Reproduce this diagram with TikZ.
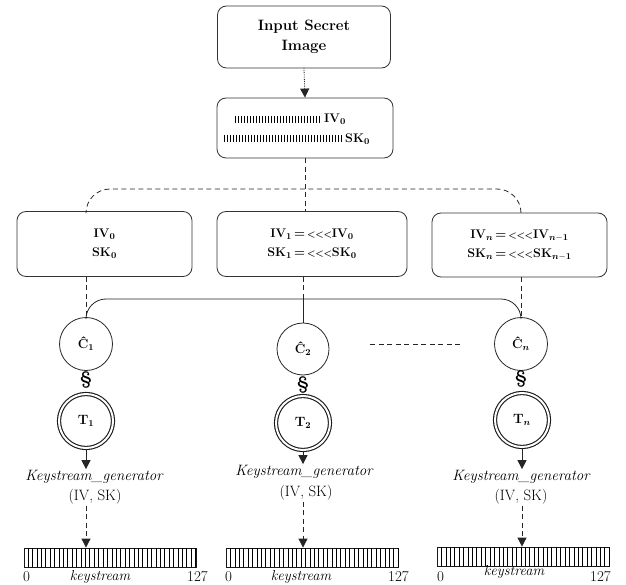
\documentclass[tikz,border=0pt]{standalone}
\usepackage{amsmath}
\usetikzlibrary{arrows.meta,calc}
\newcommand{\shl}{{\fontsize{9.5}{12}\selectfont<\kern-0.3pt<\kern-0.3pt<}}
\begin{document}
\begin{tikzpicture}[x=1pt,y=-1pt,
  ln/.style={line width=0.8pt, draw=black!85},
  dsh/.style={dash pattern=on 5pt off 3.5pt},
  arr/.style={ln, -{Triangle[width=9pt,length=9pt]}},
  rbox/.style={draw=black!80, line width=0.8pt, rounded corners=9pt, align=center, inner sep=0pt,
     font=\fontsize{12.5}{19}\selectfont\bfseries},
  cnode/.style={circle, draw=black!85, line width=0.8pt, minimum size=53pt, inner sep=0pt,
     font=\fontsize{13}{15}\selectfont\bfseries},
  tnode/.style={circle, draw=black!90, double, double distance=2pt, line width=1.1pt, minimum size=54pt, inner sep=0pt,
     font=\fontsize{13.5}{15}\selectfont\bfseries},
  sect/.style={font=\fontsize{18}{18}\selectfont\bfseries, inner sep=0pt},
  kg/.style={font=\fontsize{15}{17}\selectfont\itshape, inner sep=1pt},
  ivsk/.style={font=\fontsize{15}{17}\selectfont, inner sep=1pt},
  bar/.style={draw=black!90, line width=0.8pt, minimum width=172pt, minimum height=19pt, inner sep=0pt},
  lab/.style={font=\fontsize{15}{17}\selectfont, inner sep=0pt},
  klab/.style={font=\fontsize{14.5}{17}\selectfont\itshape, inner sep=0pt},
  smalltxt/.style={font=\fontsize{12.5}{15}\selectfont\bfseries, inner sep=0pt, anchor=west}
]
\useasboundingbox (0,0) rectangle (626,585);

% top boxes
\node[rbox, minimum width=173pt, minimum height=62pt, font=\fontsize{15}{20}\selectfont\bfseries] (inp) at (304,37) {Input Secret\\Image};
\node[rbox, minimum width=176pt, minimum height=60pt] (iv) at (305,128) {};
\draw[arr, densely dotted] (inp.south) -- (iv.north);

% bit patterns in the IV/SK box
\foreach \k in {0,...,28} \draw[line width=0.6pt] (235+\k*3,116) -- ++(0,7);
\foreach \k in {0,...,39} \draw[line width=0.6pt] (224+\k*3,135) -- ++(0,7);
\node[smalltxt] (ivt) at (324,119) {IV$_{\mathbf{0}}$};
\node[smalltxt] (skt) at (345,139) {SK$_{\mathbf{0}}$};

% middle boxes
\node[rbox, minimum width=175pt, minimum height=65pt] (a) at (104.5,244) {IV$_{\mathbf{0}}$\\SK$_{\mathbf{0}}$};
\node[rbox, minimum width=190pt, minimum height=65pt] (b) at (312,244) {IV$_{\mathbf{1}}$\,=\,\shl IV$_{\mathbf{0}}$\\SK$_{\mathbf{1}}$\,=\,\shl SK$_{\mathbf{0}}$};
\node[rbox, minimum width=175pt, minimum height=64pt] (c) at (519.5,245) {IV$_{\boldsymbol{n}}$\,=\,\shl IV$_{\boldsymbol{n}\mathbf{-1}}$\\SK$_{\boldsymbol{n}}$\,=\,\shl SK$_{\boldsymbol{n}\mathbf{-1}}$};

% circles
\node[cnode] (c1) at (86,344) {\^{C}$_{\mathbf{1}}$};
\node[cnode, minimum size=52pt] (c2) at (303,349) {\^{C}$_{\mathbf{2}}$};
\node[cnode] (cn) at (521,344) {\^{C}$_{\boldsymbol{n}}$};

% dashed distribution curve
\draw[ln, dsh, rounded corners=24pt] (a.north -| c1) -- (86,189) -- (521,189) -- (c.north -| cn);
\draw[ln, dsh] (iv.south) -- (iv.south |- b.north);

% links from boxes to circles
\coordinate (hy) at (0,299);
\draw[ln, dsh] (a.south -| c1) -- (c1.north);
\draw[ln, dsh] (b.south -| c2) -- (c2 |- hy);
\draw[ln, dsh] (c.south -| cn) -- (cn.north);
\draw[ln, rounded corners=20pt] (c1.north) -- (c1 |- hy) -- (cn |- hy) -- (cn.north);
\draw[ln] (c2 |- hy) -- (c2.north);
\coordinate (d1) at (370,344);
\coordinate (d2) at (460,344);
\draw[ln, dsh] (d1) -- (d2);

% section signs and T nodes
\node[sect] (s1) at (86,380) {\S};
\node[sect] (s2) at (303,385) {\S};
\node[sect] (sn) at (521,379) {\S};
\node[tnode] (t1) at (86,421) {T$_{\mathbf{1}}$};
\node[tnode] (t2) at (303,423) {T$_{\mathbf{2}}$};
\node[tnode] (tn) at (522,420) {T$_{\boldsymbol{n}}$};

% keystream generator labels
\node[kg] (kg1) at (94,477) {Keystream\_generator};
\node[kg] (kg2) at (304,472) {Keystream\_generator};
\node[kg] (kgn) at (521,477) {Keystream\_generator};
\node[ivsk] (p1) at (95,497) {(IV, SK)};
\node[ivsk] (p2) at (306,493) {(IV, SK)};
\node[ivsk] (pn) at (521,497) {(IV, SK)};
\draw[arr] (t1.south) -- (t1.south |- kg1.north);
\draw[arr] (t2.south) -- (t2.south |- kg2.north);
\draw[arr] (tn.south) -- (tn.south |- kgn.north);

% keystream bars
\node[bar] (b1) at (110,557.5) {};
\node[bar] (b2) at (312.5,557.5) {};
\node[bar] (bn) at (523.5,556.5) {};
\foreach \bb in {b1,b2,bn}{
  \foreach \k in {1,...,39}
    \draw[line width=0.6pt] ([xshift=\k*4.41pt]\bb.south west) -- ([xshift=\k*4.41pt]\bb.north west);
}
\draw[arr, dsh] (p1.south -| t1) -- (t1 |- b1.north);
\draw[arr, dsh] (p2.south -| t2) -- (t2 |- b2.north);
\draw[arr, dsh] (pn.south -| tn) -- (tn |- bn.north);

% bar labels
\node[lab, anchor=west] (z1) at (23,577) {0};
\node[klab] (k1) at (100,577) {keystream};
\node[lab, anchor=east] (e1) at (208,577) {127};
\node[lab, anchor=west] (z2) at (225,577) {0};
\node[klab] (k2) at (301,577) {keystream};
\node[lab, anchor=east] (e2) at (409,577) {127};
\node[lab, anchor=west] (zn) at (437,577) {0};
\node[klab] (kn) at (514,572) {keystream};
\node[lab, anchor=east] (en) at (611,577) {127};
\end{tikzpicture}
\end{document}
